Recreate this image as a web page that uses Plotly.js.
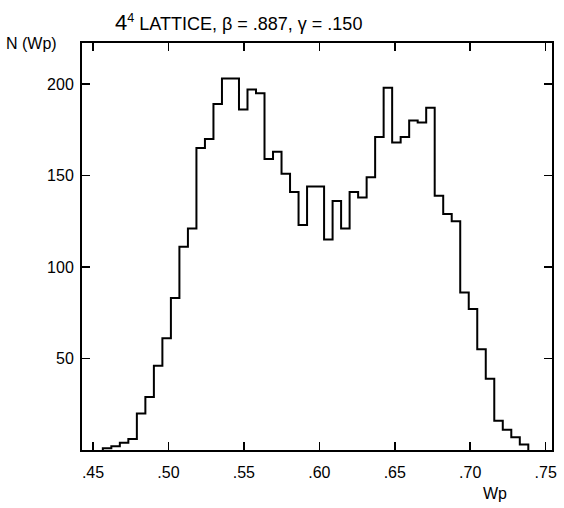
<!DOCTYPE html>
<html>
<head>
<meta charset="utf-8">
<script src="https://cdn.plot.ly/plotly-3.0.1.min.js"></script>
<style>html,body{margin:0;padding:0;background:#fff;}#chart{width:564px;height:508px;}</style>
</head>
<body>
<div id="chart"></div>
<script>
// Histogram of Wp: first bin lower edge, bin width, counts per bin
var binStart = 0.4565;
var binWidth = 0.00564;
var counts = [1, 2, 4, 6, 20, 29, 46, 61, 83, 111,
              121, 165, 170, 189, 203, 203, 186, 197, 195, 159,
              163, 151, 141, 123, 144, 144, 115, 136, 121, 141,
              138, 149, 171, 198, 168, 171, 180, 179, 187, 139,
              129, 125, 86, 77, 55, 39, 16, 11, 7, 3];
var xTickVals = [0.45, 0.50, 0.55, 0.60, 0.65, 0.70, 0.75];
var xTickText = ['.45', '.50', '.55', '.60', '.65', '.70', '.75'];
var yTickVals = [50, 100, 150, 200];

// step outline built from the bins
var xs = [binStart], ys = [0];
for (var i = 0; i < counts.length; i++) { xs.push(binStart + i * binWidth); ys.push(counts[i]); }
xs.push(binStart + counts.length * binWidth); ys.push(0);

var fam = 'Liberation Sans, Arial, sans-serif';
var trace = {
  x: xs, y: ys, type: 'scatter', mode: 'lines',
  line: {shape: 'hv', color: '#000', width: 2},
  hoverinfo: 'none', showlegend: false
};
var layout = {
  width: 564, height: 508,
  margin: {l: 82, r: 12, t: 43, b: 58, pad: 0},
  paper_bgcolor: '#fff', plot_bgcolor: '#fff',
  font: {family: fam, size: 16, color: '#000'},
  xaxis: {range: [0.4427, 0.7542], tickvals: xTickVals, ticktext: xTickText, ticks: 'inside', ticklen: 8,
          tickwidth: 1.5, tickcolor: '#000', showline: true, linecolor: '#000', linewidth: 2, mirror: 'ticks',
          showgrid: false, zeroline: false, ticklabelstandoff: 7, tickfont: {size: 16}},
  yaxis: {range: [0, 222.4], tickvals: yTickVals, ticks: 'inside', ticklen: 8, tickwidth: 1.5,
          tickcolor: '#000', showline: true, linecolor: '#000', linewidth: 2, mirror: 'ticks',
          showgrid: false, zeroline: false, ticklabelstandoff: 3, tickfont: {size: 16}},
  annotations: [
    {text: '<span style="font-size:22px">4</span><sup>4</sup> LATTICE, β = .887, γ = .150',
     xref: 'paper', yref: 'paper', x: 0.066, y: 1.0, xanchor: 'left', yanchor: 'bottom', yshift: 6,
     showarrow: false, font: {size: 18}},
    {text: 'N (Wp)', xref: 'paper', yref: 'paper', x: -0.165, y: 1.0, xanchor: 'left', yanchor: 'middle',
     showarrow: false, font: {size: 16}},
    {text: 'Wp', xref: 'paper', yref: 'paper', x: 0.848, y: -0.108, xanchor: 'left', yanchor: 'middle',
     showarrow: false, font: {size: 16}}
  ]
};
Plotly.newPlot('chart', [trace], layout, {staticPlot: true, displayModeBar: false});
</script>
</body>
</html>
